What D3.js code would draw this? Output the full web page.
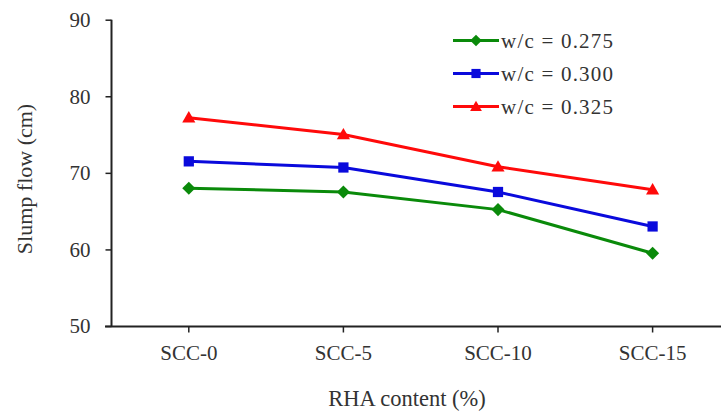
<!DOCTYPE html>
<html><head><meta charset="utf-8">
<script src="https://cdn.jsdelivr.net/npm/d3@7"></script>
<style>html,body{margin:0;padding:0;background:#fff;}svg{display:block;}</style>
</head><body>
<svg id="c" width="721" height="412"></svg>
<script>
const categories = ["SCC-0", "SCC-5", "SCC-10", "SCC-15"];
const seriesNames = ["w/c = 0.275", "w/c = 0.300", "w/c = 0.325"];
const wc0275 = [68.0, 67.5, 65.2, 59.5];
const wc0300 = [71.5, 70.7, 67.5, 63.0];
const wc0325 = [77.2, 75.0, 70.8, 67.8];
const yTicks = [50, 60, 70, 80, 90];
const colors = ["#0a8a0a", "#0a0adc", "#ff0a0a"];
const symbols = [d3.symbolSquare, d3.symbolSquare, d3.symbolTriangle];
const symRot = [45, 0, 0];
const symSizes = [85, 105, 75];

const series = [wc0275, wc0300, wc0325].map((v, i) => ({name: seriesNames[i], values: v}));

const svg = d3.select("#c");
const FONT = '"Liberation Serif", "Times New Roman", Tinos, serif';
const textColor = "#333";

const x = d3.scaleBand().domain(categories).range([111.5, 729.9]);
const y = d3.scaleLinear().domain([50, 90]).range([326, 19.7]);

// Y axis
const yAxis = svg.append("g").attr("transform", "translate(111.5,0)")
  .call(d3.axisLeft(y).tickValues(yTicks).tickSize(6).tickPadding(15).tickFormat(d3.format("d")));
yAxis.attr("font-family", null).attr("font-size", null);
yAxis.select(".domain").attr("stroke", "#222").attr("stroke-width", 2).attr("d", `M0,${y(90)}V${y(50)}`);
yAxis.selectAll(".tick line").attr("stroke", "#222").attr("stroke-width", 1.5);
yAxis.selectAll("text").style("font-family", FONT).style("font-size", "21px").attr("fill", textColor);

// X axis
const xAxis = svg.append("g").attr("transform", "translate(0,326.5)")
  .call(d3.axisBottom(x).tickSize(6).tickPadding(13));
xAxis.attr("font-family", null).attr("font-size", null);
xAxis.select(".domain").attr("stroke", "#222").attr("stroke-width", 2).attr("d", "M105,0H721");
xAxis.selectAll(".tick line").attr("stroke", "#222").attr("stroke-width", 1.5);
xAxis.selectAll("text").style("font-family", FONT).style("font-size", "21px").attr("fill", textColor);

const cx = c => x(c) + x.bandwidth() / 2;

// Lines and markers
const line = d3.line().x((d, i) => cx(categories[i])).y(d => y(d));
series.forEach((s, i) => {
  svg.append("path").datum(s.values).attr("d", line)
    .attr("fill", "none").attr("stroke", colors[i]).attr("stroke-width", 3);
  svg.selectAll(null).data(s.values).enter().append("path")
    .attr("d", d3.symbol().type(symbols[i]).size(symSizes[i]))
    .attr("transform", (d, j) => `translate(${cx(categories[j])},${y(d) + (i === 2 ? 1 : 0)}) rotate(${symRot[i]})`)
    .attr("fill", colors[i]);
});

// Legend
const legY = [40.5, 73.5, 106.5];
series.forEach((s, i) => {
  const g = svg.append("g").attr("transform", `translate(0,${legY[i]})`);
  g.append("line").attr("x1", 453).attr("x2", 499).attr("y1", 0).attr("y2", 0)
    .attr("stroke", colors[i]).attr("stroke-width", 3);
  g.append("path").attr("d", d3.symbol().type(symbols[i]).size(symSizes[i] * 0.8))
    .attr("transform", `translate(476,${i === 2 ? 1 : 0}) rotate(${symRot[i]})`).attr("fill", colors[i]);
  g.append("text").attr("x", 501).attr("y", 0).attr("dy", "0.35em")
    .style("font-family", FONT).style("font-size", "21px").attr("fill", textColor)
    .attr("textLength", 112).attr("lengthAdjust", "spacing")
    .text(s.name);
});

// Axis titles
svg.append("text").attr("x", 407).attr("y", 406).attr("text-anchor", "middle")
  .style("font-family", FONT).style("font-size", "22.5px").attr("fill", textColor)
  .text("RHA content (%)");
svg.append("text").attr("transform", "translate(24,179) rotate(-90)").attr("text-anchor", "middle")
  .attr("dy", "0.35em")
  .style("font-family", FONT).style("font-size", "22px").attr("fill", textColor)
  .text("Slump flow (cm)");
</script>
</body></html>
